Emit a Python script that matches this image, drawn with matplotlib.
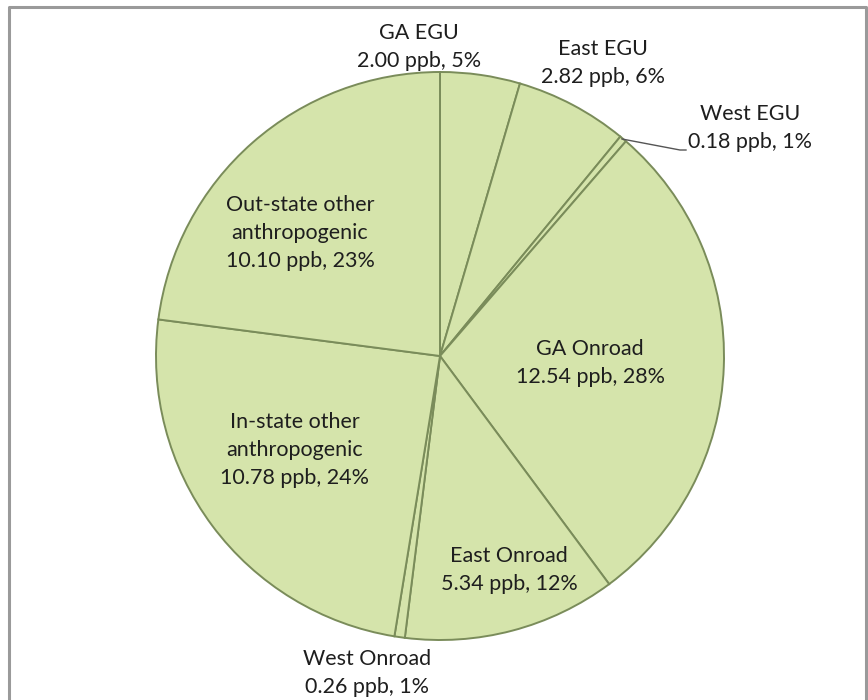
import matplotlib
matplotlib.use("Agg")
import matplotlib.pyplot as plt
from matplotlib.lines import Line2D

labels = ["GA EGU", "East EGU", "West EGU", "GA Onroad", "East Onroad",
          "West Onroad", "In-state other\nanthropogenic", "Out-state other\nanthropogenic"]
values = [2.00, 2.82, 0.18, 12.54, 5.34, 0.26, 10.78, 10.10]
percents = [5, 6, 1, 28, 12, 1, 24, 23]

# label centres in pixel space (x, y from top)
label_pos = [(419, 47), (603, 63), (750, 128), (590, 363), (509, 570),
             (367, 673), (295, 450), (300, 233)]

W, H = 868, 700
fig = plt.figure(figsize=(W / 100, H / 100), dpi=100)
ax = fig.add_axes([0, 0, 1, 1])

cx, cy, r = 440, H - 356, 284
ax.pie(values, startangle=90, counterclock=False, center=(cx, cy), radius=r,
       colors=["#d5e4ab"] * len(values),
       wedgeprops=dict(edgecolor="#7a8c5a", linewidth=1.4), frame=True)
ax.set_xlim(0, W)
ax.set_ylim(0, H)
ax.set_aspect("equal")
ax.axis("off")

for lab, v, p, (x, y) in zip(labels, values, percents, label_pos):
    ax.text(x, H - y, f"{lab}\n{v:.2f} ppb, {p}%", ha="center", va="center",
            fontsize=15.5, family="Lato", color="#1e1e1e", linespacing=1.5)

# leader line for West EGU
ax.add_line(Line2D([622, 680, 686], [H - 139, H - 150, H - 150],
                   color="#555555", lw=1))

# outer frame
fig.add_artist(Line2D([9, 9, 866, 866], [-5, H - 7, H - 7, -5],
                      transform=None, color="#9a9a9a", lw=2.2))

fig.savefig("out.png", dpi=100)
